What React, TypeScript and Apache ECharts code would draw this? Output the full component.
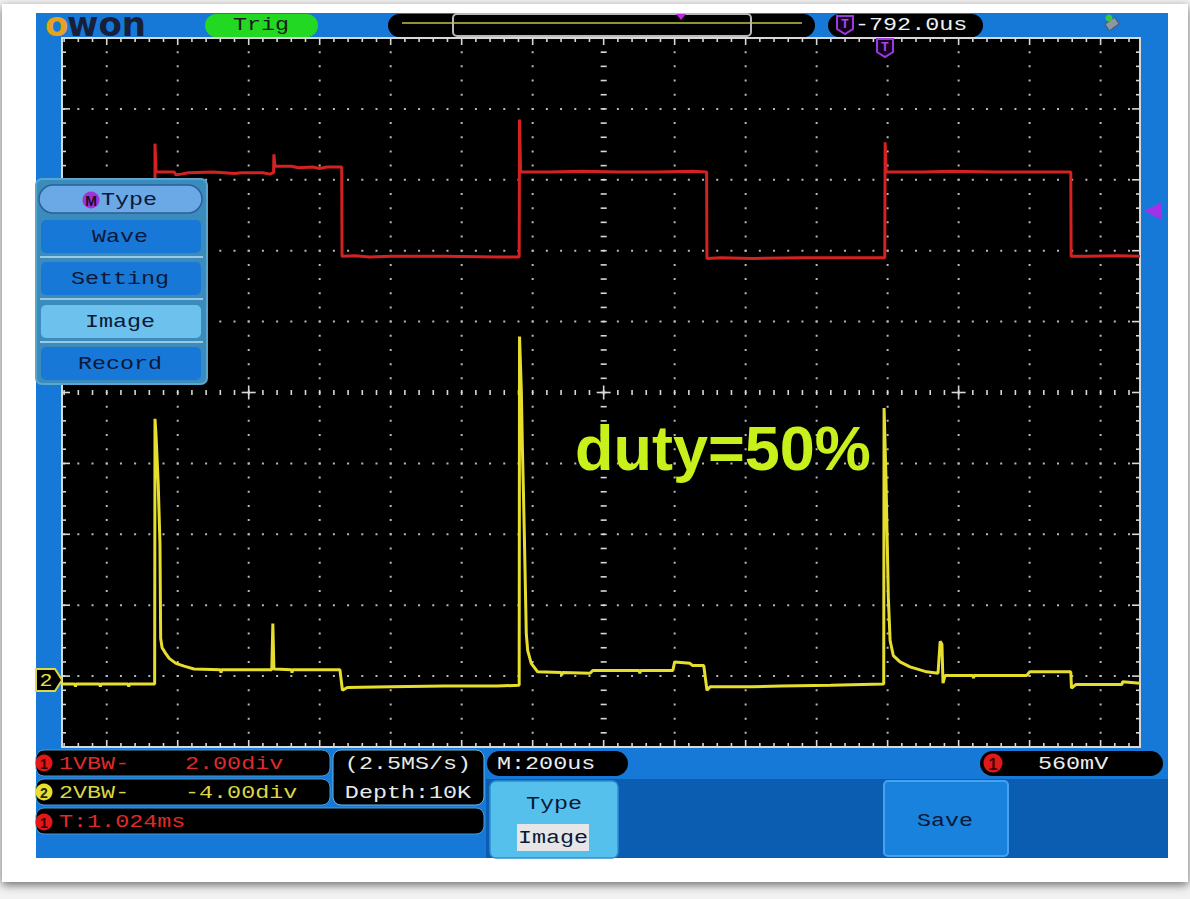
import React, { useEffect, useRef } from "react";
import * as echarts from "echarts";

// Horizontal axis: microseconds around the trigger-centred screen position (200 us per division).
// Vertical axis: screen divisions around the centre line (10 divisions).
const T_MIN = -1526;
const T_MAX = 1511;
const V_MIN = -5;
const V_MAX = 5;
const US_PER_DIV = 200;
const SUBDIV = 5;
const SUB_US = US_PER_DIV / SUBDIV;

// Channel 1 (red): gate drive square wave, [time us, divisions]
const ch1Trace: [number, number][] = [
  [-1526, 1.9], [-1264, 1.9], [-1264, 3.51], [-1261, 3.11], [-1210, 3.11], [-1205, 3.07],
  [-1190, 3.08], [-1170, 3.1], [-1100, 3.11], [-1040, 3.09], [-1020, 3.1], [-960, 3.1],
  [-940, 3.08], [-930, 3.1], [-929, 3.36], [-926, 3.19], [-880, 3.19], [-860, 3.17],
  [-820, 3.18], [-800, 3.16], [-780, 3.18], [-738, 3.18], [-737, 1.92], [-700, 1.93],
  [-660, 1.91], [-600, 1.92], [-450, 1.92], [-300, 1.91], [-238, 1.91], [-237, 3.85],
  [-234, 3.11], [-150, 3.11], [-60, 3.12], [40, 3.11], [150, 3.11], [250, 3.12],
  [290, 3.11], [291, 1.89], [330, 1.9], [420, 1.89], [560, 1.9], [700, 1.9], [792, 1.9],
  [793, 3.53], [796, 3.11], [900, 3.11], [980, 3.12], [1100, 3.11], [1200, 3.11],
  [1316, 3.11], [1317, 1.92], [1360, 1.92], [1450, 1.93], [1511, 1.92],
];

// Channel 2 (yellow): switch current with turn-on spikes, [time us, divisions]
const ch2Trace: [number, number][] = [
  [-1526, -4.11], [-1490, -4.11], [-1488, -4.15], [-1486, -4.11], [-1420, -4.11],
  [-1418, -4.15], [-1416, -4.11], [-1340, -4.11], [-1338, -4.15], [-1336, -4.11],
  [-1265, -4.11], [-1264, -0.37], [-1261, -0.61], [-1255, -1.28], [-1250, -2.13],
  [-1248, -3.47], [-1244, -3.6], [-1234, -3.68], [-1224, -3.75], [-1205, -3.82],
  [-1182, -3.86], [-1154, -3.9], [-1080, -3.91], [-1078, -3.95], [-1076, -3.91],
  [-1000, -3.91], [-935, -3.91], [-932, -3.26], [-929, -3.9], [-880, -3.91],
  [-878, -3.95], [-876, -3.91], [-800, -3.91], [-743, -3.91], [-736, -4.2],
  [-722, -4.16], [-600, -4.15], [-450, -4.14], [-300, -4.14], [-238, -4.13],
  [-237, 0.79], [-232, 0.03], [-229, -0.77], [-226, -1.41], [-223, -2.13],
  [-218, -3.4], [-214, -3.64], [-204, -3.82], [-186, -3.94], [-120, -3.95],
  [-118, -3.99], [-116, -3.95], [-39, -3.96], [-30, -3.92], [100, -3.92],
  [102, -3.96], [104, -3.92], [195, -3.92], [200, -3.8], [243, -3.82], [250, -3.85],
  [282, -3.85], [291, -4.2], [300, -4.15], [420, -4.15], [500, -4.14], [640, -4.13],
  [789, -4.11], [790, -0.22], [795, -1.14], [802, -2.89], [807, -3.5], [816, -3.71],
  [835, -3.8], [863, -3.87], [910, -3.94], [942, -3.96], [948, -3.51], [953, -3.55],
  [956, -4.1], [962, -3.99], [1040, -3.99], [1042, -4.03], [1044, -3.99],
  [1192, -3.99], [1200, -3.94], [1316, -3.94], [1318, -4.17], [1330, -4.12],
  [1460, -4.12], [1462, -4.08], [1511, -4.1],
];

// Status read-outs
const MENU_ITEMS = ["Wave", "Setting", "Image", "Record"];
const CH1_INFO = ["1VBW-", "2.00div"];
const CH2_INFO = ["2VBW-", "-4.00div"];
const PERIOD_INFO = "T:1.024ms";
const SAMPLE_RATE = "(2.5MS/s)";
const MEM_DEPTH = "Depth:10K";
const TIMEBASE = "M:200us";
const TRIG_LEVEL = "560mV";
const TRIG_DELAY = "-792.0us";
const NOTE = "duty=50%";

const MONO = '"Liberation Mono", "DejaVu Sans Mono", monospace';
const SCREEN_BLUE = "#1679d8";

function renderGraticule(_params: any, api: any) {
  const [left, top] = api.coord([T_MIN, V_MAX]);
  const [right, bottom] = api.coord([T_MAX, V_MIN]);
  const subX = api.size([SUB_US, 0])[0];
  const subY = api.size([0, 1 / SUBDIV])[1];
  const dot = "#b8b8b8";
  const tick = "#d8d8d8";
  const children: any[] = [];
  const ln = (x1: number, y1: number, x2: number, y2: number, stroke: string, w = 1.6, dash?: number[]) =>
    children.push({ type: "line", shape: { x1, y1, x2, y2 }, style: { stroke, lineWidth: w, lineDash: dash } });

  children.push({ type: "rect", shape: { x: left, y: top, width: right - left, height: bottom - top }, style: { fill: "#000" } });

  const iFirst = Math.ceil(T_MIN / SUB_US);
  const iLast = Math.floor(T_MAX / SUB_US);
  const firstSubX = api.coord([iFirst * SUB_US, 0])[0];

  // dotted division lines
  for (let k = Math.ceil(T_MIN / US_PER_DIV); k <= Math.floor(T_MAX / US_PER_DIV); k++) {
    if (k === 0) continue;
    const x = api.coord([k * US_PER_DIV, 0])[0];
    ln(x, top - 1, x, bottom + 1, dot, 2, [2, subY - 2]);
  }
  for (let k = -4; k <= 4; k++) {
    if (k === 0) continue;
    const y = api.coord([0, k])[1];
    ln(firstSubX - 1, y, right, y, dot, 2, [2, subX - 2]);
  }

  // centre axes with sub-division ticks
  const [cx, cy] = api.coord([0, 0]);
  for (let j = -5 * SUBDIV; j <= 5 * SUBDIV; j++) {
    const y = api.coord([0, j / SUBDIV])[1];
    ln(cx - 3, y, cx + 3, y, tick, 1.6);
  }
  for (let i = iFirst; i <= iLast; i++) {
    const x = api.coord([i * SUB_US, 0])[0];
    ln(x, cy - 2.5, x, cy + 2.5, tick, 1.6);
  }
  // cross hairs
  [-5, 0, 5].forEach((k) => {
    const [px, py] = api.coord([k * US_PER_DIV, 0]);
    ln(px - 7, py, px + 7, py, tick, 1.6);
    ln(px, py - 7, px, py + 7, tick, 1.6);
  });

  // frame and its ticks
  children.push({ type: "rect", shape: { x: left, y: top, width: right - left, height: bottom - top }, style: { fill: "none", stroke: tick, lineWidth: 2 } });
  for (let i = iFirst; i <= iLast; i++) {
    const x = api.coord([i * SUB_US, 0])[0];
    const len = i % SUBDIV === 0 ? 7 : 4;
    ln(x, top, x, top + len, tick, 1.6);
    ln(x, bottom, x, bottom - len, tick, 1.6);
  }
  for (let j = -5 * SUBDIV; j <= 5 * SUBDIV; j++) {
    const y = api.coord([0, j / SUBDIV])[1];
    const len = j % SUBDIV === 0 ? 8 : 4;
    ln(left, y, left + len, y, tick, 1.6);
    ln(right, y, right - len, y, tick, 1.6);
  }
  return { type: "group", children };
}

function txt(text: string, x: number, y: number, fill: string, align = "left", size = 18, sx = 1.3, z = 40): any {
  return {
    type: "text", x, y, z, scaleX: sx,
    style: { text, fill, font: `${size}px ${MONO}`, textAlign: align, textVerticalAlign: "middle" },
  };
}

function rect(x: number, y: number, width: number, height: number, fill: string, r: number | number[] = 0, z = 30, stroke?: string, lw = 1): any {
  return { type: "rect", z, shape: { x, y, width, height, r }, style: { fill, stroke: stroke ?? "none", lineWidth: lw } };
}

function badge(cx: number, cy: number, r: number, fill: string, label: string, color: string, z = 40): any[] {
  return [
    { type: "circle", z, shape: { cx, cy, r }, style: { fill } },
    { type: "text", z: z + 1, x: cx, y: cy + 1, style: { text: label, fill: color, font: `bold ${Math.round(r * 1.7)}px "Liberation Sans", Arial, sans-serif`, textAlign: "center", textVerticalAlign: "middle" } },
  ];
}

function shield(x: number, y: number, z = 40): any[] {
  return [
    { type: "polygon", z, shape: { points: [[x, y], [x + 16, y], [x + 16, y + 13], [x + 8, y + 18], [x, y + 13]] }, style: { fill: "#14001e", stroke: "#9a3ae0", lineWidth: 2 } },
    { type: "text", z: z + 1, x: x + 8, y: y + 8, style: { text: "T", fill: "#a648ee", font: `bold 13px ${MONO}`, textAlign: "center", textVerticalAlign: "middle" } },
  ];
}

function buildGraphics(): any[] {
  const g: any[] = [];
  // photo card and screen body
  g.push({ type: "rect", z: 0, shape: { x: 2, y: 4, width: 1186, height: 878 }, style: { fill: "#ffffff", shadowBlur: 10, shadowColor: "rgba(0,0,0,0.55)", shadowOffsetY: 3 } });
  g.push(rect(36, 13, 1132, 845, SCREEN_BLUE, 0, 1));

  // ---- top bar
  g.push({ type: "text", z: 40, x: 45, y: 24, style: { text: "o", fill: "#e6a41e", font: 'bold 34px "DejaVu Sans", sans-serif', textVerticalAlign: "middle" } });
  g.push({ type: "text", z: 40, x: 67, y: 24, style: { text: "won", fill: "#17203a", font: 'bold 34px "DejaVu Sans", sans-serif', textVerticalAlign: "middle" } });
  g.push(rect(205, 14, 113, 23, "#22d822", 11.5, 30));
  g.push(txt("Trig", 261, 25, "#1a1a1a", "center"));
  g.push(rect(388, 14, 427, 23, "#000", 11.5, 30));
  g.push({ type: "line", z: 35, shape: { x1: 402, y1: 23, x2: 802, y2: 23 }, style: { stroke: "#c8c040", lineWidth: 1.5 } });
  g.push(rect(453, 14, 298, 22, "none", 4, 36, "#b8b8b8", 2));
  g.push({ type: "polygon", z: 37, shape: { points: [[676, 14], [686, 14], [681, 20]] }, style: { fill: "#c026e6" } });
  g.push(rect(828, 14, 155, 23, "#000", 11.5, 30));
  g.push(...shield(837, 16));
  g.push(txt(TRIG_DELAY, 855, 25, "#f0f0f0"));
  // storage icon
  g.push({ type: "rect", z: 40, x: 1112, y: 24, rotation: Math.PI / 5, shape: { x: -6, y: -4, width: 12, height: 8, r: 1 }, style: { fill: "#8a98a6", stroke: "#4a5866", lineWidth: 1 } });
  g.push({ type: "circle", z: 41, shape: { cx: 1109, cy: 18, r: 3.5 }, style: { fill: "#3cc83c" } });

  // trigger position / level markers
  g.push(...shield(877, 39, 45));
  g.push({ type: "polygon", z: 45, shape: { points: [[1144, 211], [1162, 202], [1162, 220]] }, style: { fill: "#a232e8" } });
  g.push({ type: "polygon", z: 45, shape: { points: [[36, 669], [55, 669], [62, 680], [55, 691], [36, 691]] }, style: { fill: "#000", stroke: "#e0d840", lineWidth: 2 } });
  g.push(txt("2", 46, 681, "#e8e040", "center", 18, 1.2, 46));

  // ---- left menu
  g.push(rect(36, 179, 171, 205, "#3a8cbc", 6, 50, "#5aa6cf", 2));
  g.push(rect(39, 185, 163, 28, "#6aa8e6", 14, 51, "#2c5e98", 1.5));
  g.push(...badge(91, 200, 8.5, "#a232d4", "M", "#1a0a2a", 52));
  g.push(txt("Type", 101, 200, "#0b1838", "left", 18, 1.3, 52));
  const itemTop = [220, 262, 305, 347];
  MENU_ITEMS.forEach((name, i) => {
    const hi = name === "Image";
    g.push(rect(41, itemTop[i], 160, 33, hi ? "#6cc2ec" : "#1878d8", 5, 51));
    g.push(txt(name, 120, itemTop[i] + 17, "#0b1838", "center", 18, 1.3, 52));
    if (i < MENU_ITEMS.length - 1) {
      g.push({ type: "line", z: 51, shape: { x1: 40, y1: itemTop[i] + 37, x2: 203, y2: itemTop[i] + 37 }, style: { stroke: "#9cc8e2", lineWidth: 2 } });
    }
  });

  // ---- bottom status area
  g.push(rect(36, 750, 294, 26, "#000", 8, 30, "#4a9ad0", 1));
  g.push(rect(36, 779, 294, 26, "#000", 8, 30, "#4a9ad0", 1));
  g.push(rect(36, 808, 448, 26, "#000", 8, 30, "#4a9ad0", 1));
  g.push(rect(333, 750, 151, 55, "#000", 8, 30, "#6ab8e0", 1));
  g.push(...badge(44, 763, 8.5, "#e01818", "1", "#3a0000"));
  g.push(txt(CH1_INFO[0], 59, 764, "#e02a2a"));
  g.push(txt(CH1_INFO[1], 185, 764, "#e02a2a"));
  g.push(...badge(44, 792, 8.5, "#e8e030", "2", "#2a2a00"));
  g.push(txt(CH2_INFO[0], 59, 793, "#ddd640"));
  g.push(txt(CH2_INFO[1], 185, 793, "#ddd640"));
  g.push(...badge(44, 822, 8.5, "#e01818", "1", "#3a0000"));
  g.push(txt(PERIOD_INFO, 59, 822, "#e02a2a"));
  g.push(txt(SAMPLE_RATE, 408, 764, "#e8e8e8", "center"));
  g.push(txt(MEM_DEPTH, 408, 793, "#e8e8e8", "center"));

  g.push(rect(487, 751, 141, 25, "#000", 12.5, 30));
  g.push(txt(TIMEBASE, 497, 764, "#ececec"));
  g.push(rect(980, 751, 183, 25, "#000", 12.5, 30));
  g.push(...badge(993, 763, 9.5, "#e01818", "1", "#3a0000"));
  g.push(txt(TRIG_LEVEL, 1038, 764, "#ececec"));

  g.push(rect(486, 779, 682, 79, "#0b5db2", 0, 29));
  g.push(rect(490, 781, 128, 77, "#56c0ec", 6, 30, "#2c90d2", 1.5));
  g.push(txt("Type", 554, 804, "#0b1838", "center"));
  g.push(rect(517, 824, 72, 27, "#e6e6e6", 0, 31));
  g.push(txt("Image", 553, 838, "#0b1838", "center", 18, 1.3, 32));
  g.push(rect(884, 781, 124, 75, "#1882dc", 4, 30, "#46a2f0", 2));
  g.push(txt("Save", 945, 821, "#0b1838", "center"));

  // annotation
  g.push({ type: "text", z: 60, x: 575, y: 448, style: { text: NOTE, fill: "#c8f01a", font: 'bold 63px "Liberation Sans", Arial, sans-serif', textVerticalAlign: "middle" } });
  return g;
}

export default function App() {
  const ref = useRef<HTMLDivElement>(null);
  useEffect(() => {
    if (!ref.current) return;
    const chart = echarts.init(ref.current, undefined, { renderer: "svg" });
    chart.setOption({
      animation: false,
      backgroundColor: "#f2f2f2",
      grid: { left: 62, top: 38, width: 1078, height: 709, show: false },
      xAxis: { type: "value", min: T_MIN, max: T_MAX, show: false },
      yAxis: { type: "value", min: V_MIN, max: V_MAX, show: false },
      series: [
        { type: "custom", name: "graticule", z: 5, silent: true, clip: false, data: [[0, 0]], renderItem: renderGraticule },
        { type: "line", name: "CH1", z: 6, data: ch1Trace, symbol: "none", silent: true, lineStyle: { color: "#d42222", width: 3 } },
        { type: "line", name: "CH2", z: 7, data: ch2Trace, symbol: "none", silent: true, lineStyle: { color: "#e6de2c", width: 3 } },
      ],
      graphic: { elements: buildGraphics() },
    });
    return () => chart.dispose();
  }, []);
  return <div ref={ref} style={{ position: "absolute", left: 0, top: 0, width: 1190, height: 899 }} />;
}
